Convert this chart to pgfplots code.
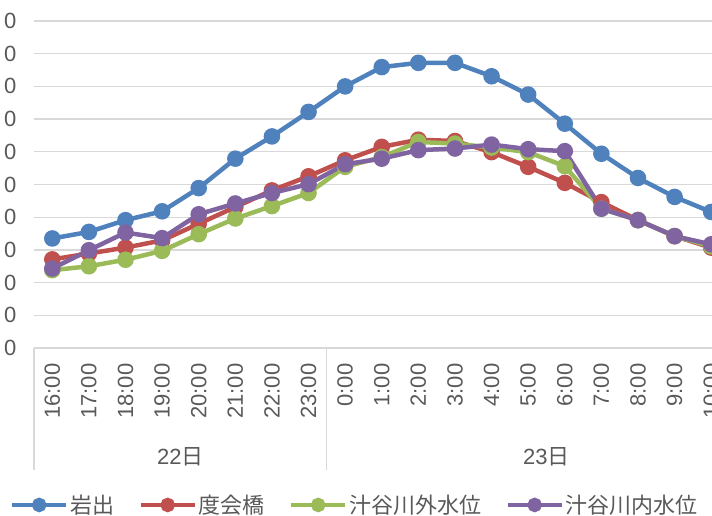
\documentclass[border=0pt]{standalone}
\usepackage{fontspec}
\setmainfont{Liberation Sans}
\newfontfamily\cjk{Noto Sans CJK JP}
\usepackage{pgfplots}
\usepackage{pgfplotstable}
\pgfplotsset{compat=1.18}
\definecolor{cblue}{HTML}{4F81BD}
\definecolor{cred}{HTML}{C0504D}
\definecolor{cgreen}{HTML}{9BBB59}
\definecolor{cpurple}{HTML}{8064A2}
\definecolor{txt}{HTML}{595959}
\definecolor{grd}{HTML}{D9D9D9}

\pgfplotstableread{
x  iwade watarai soto uchi
0  3.35 2.71 2.38 2.43
1  3.55 2.89 2.50 2.99
2  3.91 3.07 2.70 3.53
3  4.18 3.29 2.97 3.36
4  4.89 3.80 3.48 4.09
5  5.79 4.31 3.96 4.42
6  6.47 4.82 4.34 4.74
7  7.22 5.25 4.74 5.01
8  8.00 5.74 5.54 5.62
9  8.59 6.15 5.84 5.79
10 8.72 6.37 6.30 6.05
11 8.72 6.33 6.25 6.10
12 8.31 5.99 6.13 6.22
13 7.75 5.54 5.99 6.08
14 6.86 5.05 5.56 6.02
15 5.94 4.46 4.26 4.26
16 5.20 3.91 3.91 3.91
17 4.62 3.42 3.42 3.42
18 4.16 3.07 3.11 3.17
}\datatable

\begin{document}
\begin{tikzpicture}
\useasboundingbox (0,0) rectangle (712pt,516pt);
\begin{axis}[
  at={(34pt,168pt)}, anchor=south west,
  scale only axis, width=695.5pt, height=327pt,
  xmin=-0.5, xmax=18.5, ymin=0, ymax=10,
  ytick={0,1,...,10},
  yticklabels={0,0,0,0,0,0,0,0,0,0,0},
  xtick={0,1,...,18},
  xticklabels={16:00,17:00,18:00,19:00,20:00,21:00,22:00,23:00,0:00,1:00,2:00,3:00,4:00,5:00,6:00,7:00,8:00,9:00,10:00},
  ymajorgrids,
  grid style={grd, line width=1.3pt},
  axis line style={draw=none},
  major tick length=0pt,
  tick label style={font=\fontsize{22}{26}\selectfont, text=txt},
  xticklabel style={yshift=-12pt, rotate=90, anchor=east},
  yticklabel style={anchor=east, xshift=-14pt},
  clip=false,
  legend columns=4,
  legend style={draw=none, fill=none, at={(0.4615,-0.48)}, anchor=center,
    font=\cjk\fontsize{22}{26}\selectfont, text=txt,
    /tikz/every even column/.append style={column sep=22pt}},
  legend image code/.code={\draw[#1, mark repeat=2, mark phase=2, mark size=5pt] plot coordinates {(0pt,0pt)(27pt,0pt)(54pt,0pt)};},
  every axis plot/.append style={line width=4.5pt, mark=*, mark size=6pt, mark options={solid}},
]
\addplot[color=cblue] table[x=x, y=iwade] {\datatable};
\addlegendentry{岩出}
\addplot[color=cred] table[x=x, y=watarai] {\datatable};
\addlegendentry{度会橋}
\addplot[color=cgreen] table[x=x, y=soto] {\datatable};
\addlegendentry{汁谷川外水位}
\addplot[color=cpurple] table[x=x, y=uchi] {\datatable};
\addlegendentry{汁谷川内水位}

\draw[grd, line width=1.3pt] (axis cs:-0.5,0) -- ([yshift=-122pt]axis cs:-0.5,0);
\draw[grd, line width=1.3pt] (axis cs:7.5,0) -- ([yshift=-122pt]axis cs:7.5,0);
\node[text=txt, font=\fontsize{22}{26}\selectfont] at ([yshift=-109pt]axis cs:3.5,0) {22{\cjk 日}};
\node[text=txt, font=\fontsize{22}{26}\selectfont] at ([yshift=-109pt]axis cs:13.5,0) {23{\cjk 日}};
\end{axis}
\end{tikzpicture}
\end{document}
